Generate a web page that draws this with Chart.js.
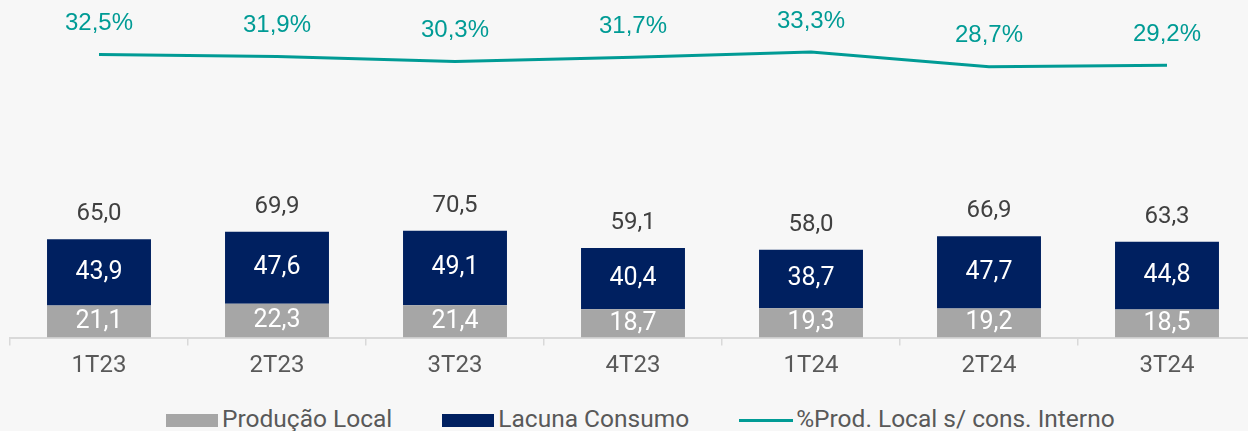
<!DOCTYPE html>
<html>
<head>
<meta charset="utf-8">
<script src="https://cdn.jsdelivr.net/npm/chart.js@4/dist/chart.umd.min.js"></script>
<style>
  html, body { margin: 0; padding: 0; background: #f7f7f7; overflow: hidden; width: 1248px; height: 431px; }
  #wrap { position: absolute; left: 0; top: 0; }
  #legend { position: absolute; left: 166px; top: 407px; display: flex; font: 24.5px Roboto, sans-serif; color: #595959; line-height: 24px; white-space: nowrap; }
  #legend .item { display: flex; align-items: flex-start; margin-right: 50px; }
  #legend .box { width: 52px; height: 13px; margin-top: 7px; margin-right: 4px; }
  #legend .line { width: 54px; height: 3px; margin-top: 12px; margin-right: 3px; }
</style>
</head>
<body>
<div id="wrap"><canvas id="myChart" width="1260" height="400"></canvas></div>
<div id="legend"></div>
<script>
var categories = ['1T23', '2T23', '3T23', '4T23', '1T24', '2T24', '3T24'];
var producaoLocal = [21.1, 22.3, 21.4, 18.7, 19.3, 19.2, 18.5];
var lacunaConsumo = [43.9, 47.6, 49.1, 40.4, 38.7, 47.7, 44.8];
var totais = [65.0, 69.9, 70.5, 59.1, 58.0, 66.9, 63.3];
var pctProdLocal = [32.5, 31.9, 30.3, 31.7, 33.3, 28.7, 29.2];

var cinza = '#a6a6a6';
var azul = '#002060';
var verde = '#009b95';

function fmt(v) {
    return v.toFixed(1).replace('.', ',');
}

// rotulos de valores (sem plugin datalabels)
var rotulos = {
    id: 'rotulos',
    afterDatasetsDraw: function(chart) {
        var ctx = chart.ctx;
        ctx.save();
        ctx.textAlign = 'center';
        ctx.textBaseline = 'middle';

        ctx.font = '25px Roboto';
        ctx.fillStyle = '#ffffff';
        [0, 1].forEach(function(di) {
            chart.getDatasetMeta(di).data.forEach(function(bar, i) {
                ctx.fillText(fmt(chart.data.datasets[di].data[i]), bar.x, (bar.y + bar.base) / 2);
            });
        });

        ctx.font = '24px Roboto';
        ctx.fillStyle = '#404040';
        chart.getDatasetMeta(1).data.forEach(function(bar, i) {
            ctx.fillText(fmt(totais[i]), bar.x, bar.y - 25);
        });

        ctx.font = '24px "Liberation Sans", Arial';
        ctx.fillStyle = verde;
        chart.getDatasetMeta(2).data.forEach(function(pt, i) {
            ctx.fillText(fmt(pctProdLocal[i]) + '%', pt.x, pt.y - 31);
        });
        ctx.restore();
    }
};

var ctx = document.getElementById('myChart').getContext('2d');
var myChart = new Chart(ctx, {
    type: 'bar',
    data: {
        labels: categories,
        datasets: [{
            label: 'Produção Local',
            data: producaoLocal,
            backgroundColor: cinza,
            stack: 's',
            order: 2
        }, {
            label: 'Lacuna Consumo',
            data: lacunaConsumo,
            backgroundColor: azul,
            stack: 's',
            order: 2
        }, {
            type: 'line',
            label: '%Prod. Local s/ cons. Interno',
            data: pctProdLocal,
            yAxisID: 'y2',
            borderColor: verde,
            backgroundColor: verde,
            borderWidth: 3,
            pointRadius: 0,
            tension: 0,
            order: 1
        }]
    },
    options: {
        responsive: false,
        animation: false,
        layout: { padding: { left: 10, right: 4, top: 20, bottom: 0 } },
        datasets: { bar: { categoryPercentage: 1, barPercentage: 0.584 } },
        plugins: {
            legend: { display: false },
            tooltip: { enabled: false }
        },
        scales: {
            x: {
                stacked: true,
                grid: { drawOnChartArea: false, tickLength: 8, color: '#d9d9d9', lineWidth: 1.5 },
                border: { color: '#d9d9d9', width: 2 },
                ticks: { color: '#595959', font: { family: 'Roboto', size: 24 }, padding: 6 },
                afterFit: function(s) { s.height = 62.5; }
            },
            y: { stacked: true, display: false, min: 0, max: 209.9 },
            y2: { display: false, min: -55.9, max: 43.3 }
        }
    },
    plugins: [rotulos]
});

// legenda em html
var leg = document.getElementById('legend');
myChart.data.datasets.forEach(function(ds) {
    var item = document.createElement('div');
    item.className = 'item';
    var mark = document.createElement('span');
    mark.className = ds.type === 'line' ? 'line' : 'box';
    mark.style.background = ds.type === 'line' ? ds.borderColor : ds.backgroundColor;
    var txt = document.createElement('span');
    txt.textContent = ds.label;
    item.appendChild(mark);
    item.appendChild(txt);
    leg.appendChild(item);
});
</script>
</body>
</html>
